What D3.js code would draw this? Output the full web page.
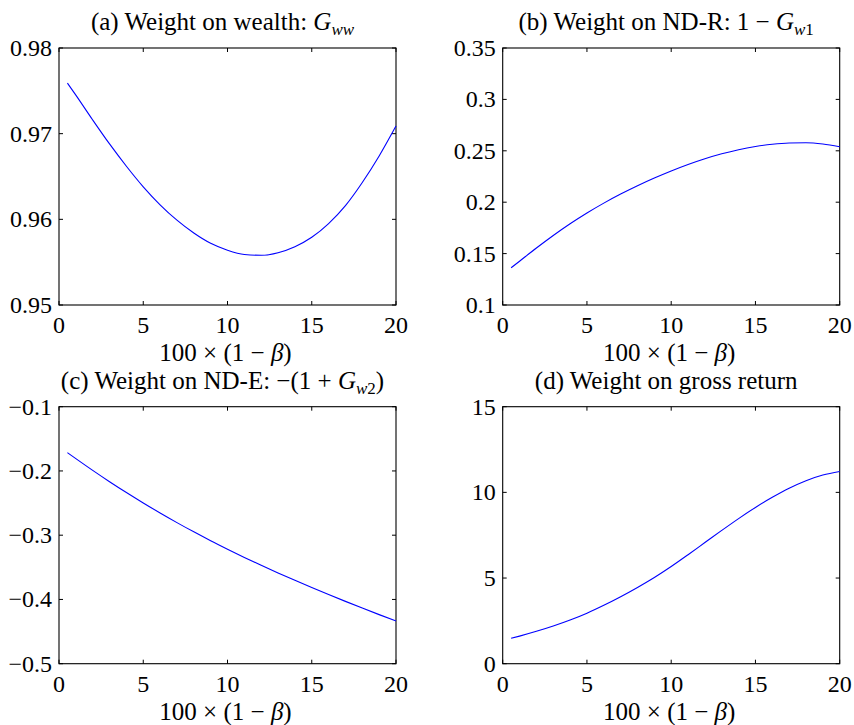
<!DOCTYPE html>
<html>
<head>
<meta charset="utf-8">
<script src="https://cdn.jsdelivr.net/npm/d3@7"></script>
<style>
  html, body { margin: 0; padding: 0; background: #fff; }
</style>
</head>
<body>
<svg id="fig" width="854" height="725"></svg>
<script>
// Horizon grid: 100 × (1 − β)
const horizon = [0.5, 1, 2, 3, 4, 5, 6, 7, 8, 9, 10, 11, 12, 13, 14, 15, 16, 17, 18, 19, 20];

// (a) weight on wealth, G_ww
const wealthWeight = [0.9759, 0.9745, 0.9716, 0.9688, 0.9662, 0.9638, 0.9617, 0.9599, 0.9584, 0.9572,
  0.9564, 0.9559, 0.9558, 0.9561, 0.9568, 0.9579, 0.9595, 0.9616, 0.9643, 0.9674, 0.9709];

// (b) weight on ND-R, 1 − G_w1
const ndrWeight = [0.1362, 0.1426, 0.1554, 0.1676, 0.1790, 0.1895, 0.1991, 0.2079, 0.2160, 0.2235,
  0.2304, 0.2367, 0.2423, 0.2471, 0.2511, 0.2542, 0.2564, 0.2576, 0.2578, 0.2566, 0.2540];

// (c) weight on ND-E, −(1 + G_w2)
const ndeWeight = [-0.1715, -0.1808, -0.1991, -0.2167, -0.2336, -0.2498, -0.2654, -0.2804, -0.2948, -0.3086,
  -0.3218, -0.3346, -0.3469, -0.3588, -0.3703, -0.3815, -0.3924, -0.4030, -0.4134, -0.4236, -0.4336];

// (d) weight on gross return
const grossReturnWeight = [1.48, 1.61, 1.89, 2.20, 2.55, 2.95, 3.41, 3.91, 4.45, 5.03,
  5.67, 6.36, 7.07, 7.78, 8.47, 9.12, 9.71, 10.24, 10.68, 11.01, 11.22];

// Axis ticks
const xTicks = [0, 5, 10, 15, 20];
const yTicksA = [0.95, 0.96, 0.97, 0.98];
const yTicksB = [0.1, 0.15, 0.2, 0.25, 0.3, 0.35];
const yTicksC = [-0.5, -0.4, -0.3, -0.2, -0.1];
const yTicksD = [0, 5, 10, 15];

const xLabelText = ["100 × (1 − ", "β", ")"];

const panels = [
  { values: wealthWeight, yDomain: [0.95, 0.98], yTicks: yTicksA, col: 0, row: 0,
    title: [["(a) Weight on wealth: ", null], ["G", "it"], ["ww", "subit"]] },
  { values: ndrWeight, yDomain: [0.1, 0.35], yTicks: yTicksB, col: 1, row: 0,
    title: [["(b) Weight on ND-R: 1 − ", null], ["G", "it"], ["w", "subit"], ["1", "sub"]] },
  { values: ndeWeight, yDomain: [-0.5, -0.1], yTicks: yTicksC, col: 0, row: 1,
    title: [["(c) Weight on ND-E: −(1 + ", null], ["G", "it"], ["w", "subit"], ["2", "sub"], [")", "up"]] },
  { values: grossReturnWeight, yDomain: [0, 15], yTicks: yTicksD, col: 1, row: 1,
    title: [["(d) Weight on gross return", null]] }
];

const colLeft = [59, 502.7], rowTop = [48, 406.7];
const W = 337, H = 257;
const tickLen = 4;
const serif = "'Liberation Serif', 'Times New Roman', serif";

const svg = d3.select("#fig").attr("font-family", serif);

const fmt = v => (v < 0 ? "\u2212" : "") + String(Math.abs(v));

panels.forEach(p => {
  const g = svg.append("g").attr("transform", `translate(${colLeft[p.col]},${rowTop[p.row]})`)
    .attr("font-family", serif);
  const x = d3.scaleLinear().domain([0, 20]).range([0, W]);
  const y = d3.scaleLinear().domain(p.yDomain).range([H, 0]);

  // box
  g.append("rect").attr("width", W).attr("height", H)
    .attr("fill", "none").attr("stroke", "#000").attr("stroke-width", 1.1);

  // inward ticks on all four sides
  xTicks.forEach(t => {
    g.append("line").attr("x1", x(t)).attr("x2", x(t)).attr("y1", H).attr("y2", H - tickLen).attr("stroke", "#000");
    g.append("line").attr("x1", x(t)).attr("x2", x(t)).attr("y1", 0).attr("y2", tickLen).attr("stroke", "#000");
    g.append("text").attr("x", x(t)).attr("y", H + 28).attr("text-anchor", "middle")
      .attr("font-size", 24).text(fmt(t));
  });
  p.yTicks.forEach(t => {
    g.append("line").attr("x1", 0).attr("x2", tickLen).attr("y1", y(t)).attr("y2", y(t)).attr("stroke", "#000");
    g.append("line").attr("x1", W).attr("x2", W - tickLen).attr("y1", y(t)).attr("y2", y(t)).attr("stroke", "#000");
    g.append("text").attr("x", -7).attr("y", y(t) + 8).attr("text-anchor", "end")
      .attr("font-size", 24).text(fmt(t));
  });

  // curve
  const line = d3.line().x((d, i) => x(horizon[i])).y(d => y(d)).curve(d3.curveMonotoneX);
  g.append("path").datum(p.values).attr("d", line)
    .attr("fill", "none").attr("stroke", "#0000ff").attr("stroke-width", 1.1);

  // title
  const title = g.append("text").attr("x", W / 2 - 5).attr("y", -18)
    .attr("text-anchor", "middle").attr("font-size", 25);
  let shifted = 0;
  p.title.forEach(([txt, kind]) => {
    const ts = title.append("tspan").text(txt);
    if (kind === "it") ts.attr("font-style", "italic");
    if (kind === "sub" || kind === "subit") {
      ts.attr("font-size", 17);
      if (!shifted) { ts.attr("dy", 5); shifted = 5; }
      if (kind === "subit") ts.attr("font-style", "italic");
    }
    if (kind === "up") { ts.attr("dy", -shifted); shifted = 0; }
  });

  // x label
  const xl = g.append("text").attr("x", W / 2 - 2).attr("y", H + 56)
    .attr("text-anchor", "middle").attr("font-size", 25);
  xl.append("tspan").text(xLabelText[0]);
  xl.append("tspan").attr("font-style", "italic").text(xLabelText[1]);
  xl.append("tspan").text(xLabelText[2]);
});
</script>
</body>
</html>
